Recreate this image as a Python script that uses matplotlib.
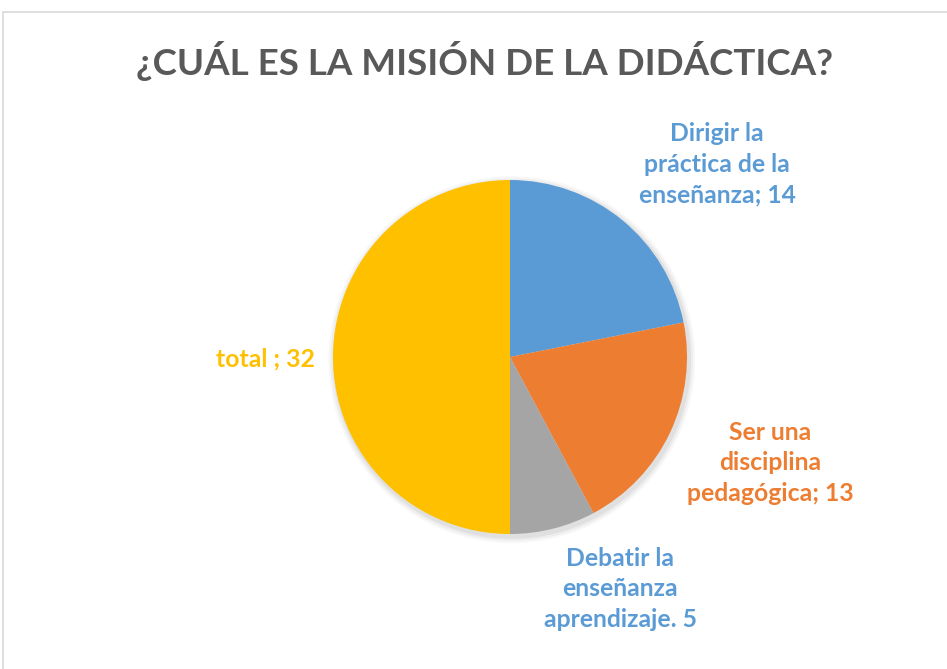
import matplotlib
matplotlib.use("Agg")
import matplotlib.pyplot as plt
from matplotlib.patches import Rectangle, Circle

plt.rcParams["font.family"] = ["Lato", "DejaVu Sans"]

TITLE = "¿CUÁL ES LA MISIÓN DE LA DIDÁCTICA?"
labels = ["Dirigir la\npráctica de la\nenseñanza; 14",
          "Ser una\ndisciplina\npedagógica; 13",
          "Debatir la\nenseñanza\naprendizaje. 5",
          "total ; 32"]
values = [14, 13, 5, 32]
colors = ["#5B9BD5", "#ED7D31", "#A5A5A5", "#FFC000"]
label_colors = ["#5B9BD5", "#ED7D31", "#5B9BD5", "#FFC000"]
# label centres in pixels (x, y from top)
label_pos = [(717, 164), (770, 463), (620, 589), (265, 359)]

W, H = 947, 669
fig = plt.figure(figsize=(W / 100, H / 100), dpi=100)

# chart frame
fig.patches.append(Rectangle((3 / W, -0.05), 1.1, 1 - 12 / H + 0.05,
                             transform=fig.transFigure, fill=False,
                             edgecolor="#D9D9D9", lw=1.2))

fig.text(484 / W, 1 - 61 / H, TITLE, ha="center", va="center",
         fontsize=26.5, fontweight="bold", color="#595959")

cx, cy, r = 510, 357, 177
pad = 12
ax = fig.add_axes([(cx - r - pad) / W, (H - cy - r - pad) / H,
                   2 * (r + pad) / W, 2 * (r + pad) / H])
ax.set_aspect("equal")
ax.axis("off")

# soft shadow
for i, a in enumerate([0.05, 0.04, 0.03]):
    ax.add_patch(Circle((0.01, -0.015), 1 + 0.012 * (i + 1), color="#000000",
                        alpha=a, lw=0, zorder=0))

ax.pie(values, colors=colors, startangle=90, counterclock=False,
       radius=1, wedgeprops={"linewidth": 0, "zorder": 1})
ax.set_xlim(-(r + pad) / r, (r + pad) / r)
ax.set_ylim(-(r + pad) / r, (r + pad) / r)

for lab, col, (x, y) in zip(labels, label_colors, label_pos):
    fig.text(x / W, 1 - y / H, lab, ha="center", va="center",
             fontsize=17.8, fontweight="bold", color=col, linespacing=1.42,
             multialignment="center")

fig.savefig("out.png", dpi=100, facecolor="white")
